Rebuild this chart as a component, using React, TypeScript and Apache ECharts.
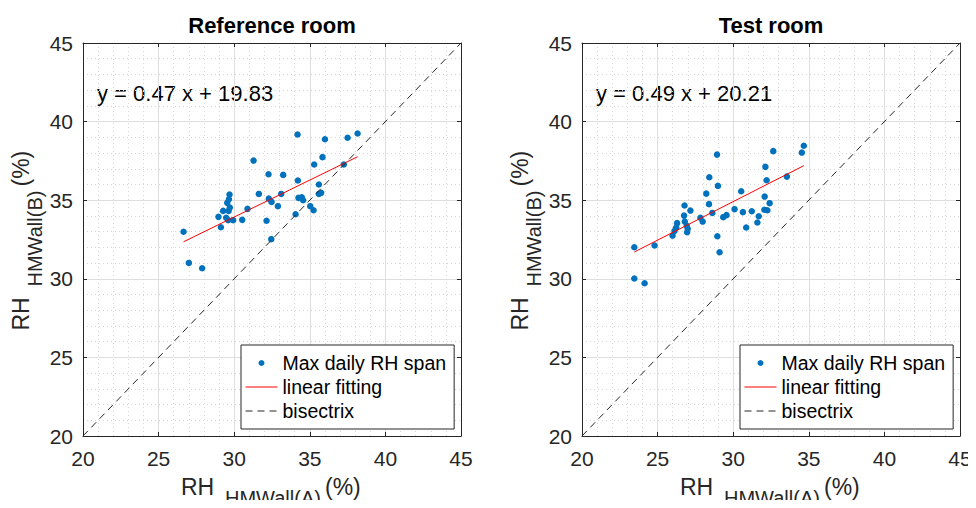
import React, { useEffect, useRef } from 'react';
import * as echarts from 'echarts';

// ---------- data ----------
const axisMin = 20;
const axisMax = 45;
const axisStep = 5;
const panelTitles = ['Reference room', 'Test room'];
const legendNames = ['Max daily RH span', 'linear fitting', 'bisectrix'];
const xSubscript = 'HMWall(A)';
const ySubscript = 'HMWall(B)';

// [RH HMWall(A), RH HMWall(B)]
const referencePoints: number[][] = [
  [26.65, 32.99], [27.0, 31.01], [27.88, 30.67], [34.19, 39.18], [36.0, 38.88],
  [37.5, 38.97], [38.16, 39.24], [31.28, 37.52], [35.84, 37.74], [35.29, 37.27],
  [37.25, 37.27], [32.27, 36.65], [33.24, 36.61], [34.21, 36.25], [35.6, 36.0],
  [31.63, 35.4], [33.11, 35.4], [29.69, 35.36], [29.65, 35.06], [29.54, 34.83],
  [32.29, 35.1], [32.47, 34.89], [32.89, 34.62], [34.25, 35.15], [34.47, 35.19],
  [34.56, 35.0], [35.6, 35.4], [35.75, 35.47], [35.03, 34.62], [35.25, 34.36],
  [34.06, 34.11], [30.88, 34.45], [29.71, 34.53], [29.27, 34.32], [29.63, 34.32],
  [28.96, 33.94], [29.47, 33.88], [29.6, 33.73], [29.93, 33.73], [30.53, 33.75],
  [29.12, 33.28], [32.14, 33.69], [32.45, 32.52],
];

const testPoints: number[][] = [
  [23.46, 32.01], [23.46, 30.02], [24.14, 29.72], [24.8, 32.12], [34.67, 38.46],
  [34.54, 38.03], [32.65, 38.12], [28.93, 37.9], [32.13, 37.12], [28.42, 36.46],
  [32.21, 36.27], [33.55, 36.5], [28.99, 35.91], [28.22, 35.42], [30.53, 35.57],
  [32.08, 35.23], [32.41, 34.81], [26.78, 34.66], [28.4, 34.75], [27.17, 34.34],
  [26.75, 34.02], [28.62, 34.19], [27.83, 33.88], [27.98, 33.64], [29.34, 33.92],
  [29.56, 34.05], [30.09, 34.43], [30.64, 34.24], [31.23, 34.3], [32.06, 34.39],
  [32.26, 34.36], [31.69, 33.98], [31.6, 33.58], [30.86, 33.26], [26.29, 33.54],
  [26.23, 33.26], [26.12, 33.05], [25.99, 32.75], [26.8, 33.64], [26.93, 33.37],
  [26.99, 33.18], [26.95, 32.96], [28.95, 32.71], [29.1, 31.69],
];

const fitSlopes = [0.47, 0.49];
const fitIntercepts = [19.83, 20.21];

// ---------- styling / layout ----------
const FONT = '"Liberation Sans", Arial, Helvetica, sans-serif';
const TEXT = '#262626';
const gridLefts = [83, 582];
const gridTop = 43;
const gridW = 378;
const gridH = 393;

function txt(text: string, x: number, y: number, size: number, extra: any = {}) {
  return {
    type: 'text',
    x,
    y,
    silent: true,
    style: {
      text,
      fontSize: size,
      fontFamily: FONT,
      fill: TEXT,
      align: 'left',
      verticalAlign: 'middle',
      textAlign: 'left',
      textVerticalAlign: 'middle',
      ...extra,
    },
  };
}

function axisName(x: number, y: number, rotation: number, sub: string, subOffset: number) {
  return {
    type: 'group',
    x,
    y,
    rotation,
    children: [
      txt('RH', -91, 0, 23),
      txt(sub, -47, subOffset, 20),
      txt('(%)', 53, 0, 23),
    ],
  };
}

function buildOption() {
  const panels = [referencePoints, testPoints];
  const grid: any[] = [];
  const xAxis: any[] = [];
  const yAxis: any[] = [];
  const series: any[] = [];
  const legend: any[] = [];
  const graphic: any[] = [];

  panels.forEach((pts, i) => {
    const left = gridLefts[i];
    grid.push({ left, top: gridTop, width: gridW, height: gridH, containLabel: false });

    const common = {
      type: 'value',
      min: axisMin,
      max: axisMax,
      interval: axisStep,
      gridIndex: i,
      axisLine: { show: true, lineStyle: { color: TEXT, width: 1 } },
      axisTick: { show: true, inside: true, length: 4, lineStyle: { color: TEXT } },
      minorTick: { show: false, splitNumber: 5 },
    };
    xAxis.push({
      ...common,
      position: 'bottom',
      axisLabel: { color: TEXT, fontSize: 21, fontFamily: FONT, margin: 12 },
      splitLine: { show: true, lineStyle: { color: '#dedede', width: 1 } },
      minorSplitLine: { show: true, lineStyle: { color: '#d6d6d6', width: 1, type: [1, 3] } },
    });
    xAxis.push({
      ...common,
      position: 'top',
      axisLabel: { show: false },
      splitLine: { show: false },
    });
    yAxis.push({
      ...common,
      position: 'left',
      axisLabel: { color: TEXT, fontSize: 21, fontFamily: FONT, margin: 10 },
      splitLine: { show: true, lineStyle: { color: '#dedede', width: 1 } },
      minorSplitLine: { show: true, lineStyle: { color: '#d6d6d6', width: 1, type: [1, 3] } },
    });
    yAxis.push({
      ...common,
      position: 'right',
      axisLabel: { show: false },
      splitLine: { show: false },
    });

    const xs = pts.map((p) => p[0]);
    const xMinData = Math.min(...xs);
    const xMaxData = Math.max(...xs);
    const a = fitSlopes[i];
    const b = fitIntercepts[i];

    series.push({
      name: legendNames[0],
      type: 'scatter',
      xAxisIndex: 2 * i,
      yAxisIndex: 2 * i,
      data: pts,
      symbol: 'circle',
      symbolSize: 6.5,
      itemStyle: { color: '#0072BD', opacity: 1 },
      silent: true,
    });
    series.push({
      name: legendNames[1],
      type: 'line',
      xAxisIndex: 2 * i,
      yAxisIndex: 2 * i,
      data: [
        [xMinData, a * xMinData + b],
        [xMaxData, a * xMaxData + b],
      ],
      symbol: 'none',
      showSymbol: false,
      lineStyle: { color: '#FF0000', width: 1 },
      itemStyle: { color: '#FF0000' },
      silent: true,
    });
    series.push({
      name: legendNames[2],
      type: 'line',
      xAxisIndex: 2 * i,
      yAxisIndex: 2 * i,
      data: [
        [axisMin, axisMin],
        [axisMax, axisMax],
      ],
      symbol: 'none',
      showSymbol: false,
      lineStyle: { color: TEXT, width: 1, type: [7, 5] },
      itemStyle: { color: TEXT },
      silent: true,
    });

    legend.push({
      show: true,
      orient: 'vertical',
      left: left + 158,
      top: 345,
      data: [
        { name: legendNames[0] },
        { name: legendNames[1], itemStyle: { opacity: 0 }, lineStyle: { width: 1 } },
        { name: legendNames[2], itemStyle: { opacity: 0 }, lineStyle: { width: 1 } },
      ],
      itemWidth: 32,
      itemHeight: 6,
      itemGap: 4,
      selectedMode: false,
      backgroundColor: '#ffffff',
      borderColor: TEXT,
      borderWidth: 1,
      borderRadius: 0,
      padding: [8, 8, 8, 4],
      lineStyle: { width: 1 },
      textStyle: { color: '#000000', fontSize: 19.5, fontFamily: FONT },
    });

    const cx = left + gridW / 2;
    graphic.push(
      txt(panelTitles[i], cx, 25.5, 22, {
        fontWeight: 'bold',
        fill: '#000000',
        align: 'center',
        textAlign: 'center',
      })
    );
    graphic.push(
      txt(`y = ${a.toFixed(2)} x + ${b.toFixed(2)}`, left + 14, 93, 22, { fill: '#000000' })
    );
    graphic.push(axisName(cx, 487, 0, xSubscript, 11));
    graphic.push(axisName(left - 62, gridTop + gridH / 2, Math.PI / 2, ySubscript, 14));
  });

  return {
    animation: false,
    backgroundColor: '#ffffff',
    textStyle: { fontFamily: FONT },
    grid,
    xAxis,
    yAxis,
    series,
    legend,
    graphic,
  };
}

export default function App() {
  const ref = useRef<HTMLDivElement>(null);
  useEffect(() => {
    if (!ref.current) return;
    const chart = echarts.init(ref.current, undefined, { renderer: 'svg' });
    chart.setOption(buildOption() as any);
    return () => chart.dispose();
  }, []);
  return <div ref={ref} style={{ width: 976, height: 508, margin: -8 }} />;
}
